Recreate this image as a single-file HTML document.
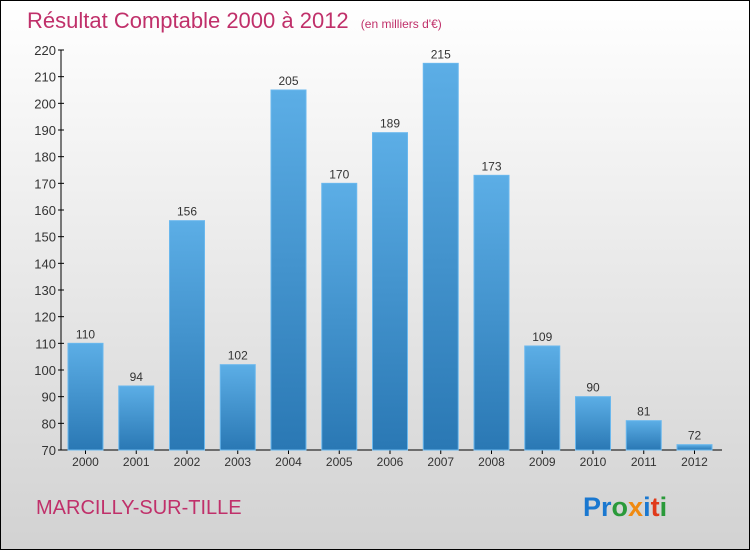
<!DOCTYPE html>
<html><head><meta charset="utf-8"><style>
body{margin:0}
#c{width:750px;height:550px;position:relative;box-sizing:border-box;border:1px solid #000;background:linear-gradient(#ffffff,#d2d2d2);font-family:"Liberation Sans",sans-serif;overflow:hidden}
</style></head><body>
<div id="c">
<svg width="750" height="550" style="position:absolute;left:-1px;top:-1px">
<defs><linearGradient id="g" x1="0" y1="0" x2="0" y2="1"><stop offset="0" stop-color="#5caee6"/><stop offset="1" stop-color="#2a78b4"/></linearGradient></defs>
<text x="27" y="28" font-size="22" fill="#c0306a">Résultat Comptable 2000 à 2012 <tspan font-size="12" dx="6">(en milliers d'€)</tspan></text>
<g id="ax"></g><g id="bars"></g>
<text x="36" y="514" font-size="20" fill="#c0306a">MARCILLY-SUR-TILLE</text>
<text x="583" y="516" font-size="27" font-weight="bold"><tspan fill="#1a78d0">Pr</tspan><tspan fill="#2a9a3a">o</tspan><tspan fill="#f08a10">x</tspan><tspan fill="#1a78d0">i</tspan><tspan fill="#e03a1a">t</tspan><tspan fill="#2a9a3a">i</tspan></text>
</svg>
</div>
<script>
const categories=["2000","2001","2002","2003","2004","2005","2006","2007","2008","2009","2010","2011","2012"];
const values=[110,94,156,102,205,170,189,215,173,109,90,81,72];
const ticks=[70,80,90,100,110,120,130,140,150,160,170,180,190,200,210,220];
const NS="http://www.w3.org/2000/svg";
const y=v=>450-(v-70)*(400/150);
const x=i=>85.5+i*50.75;
function mk(t,a,p){const e=document.createElementNS(NS,t);for(const k in a)e.setAttribute(k,a[k]);p.appendChild(e);return e;}
const ax=document.getElementById('ax'),bars=document.getElementById('bars');
const yl=mk('line',{x1:61,y1:50,x2:61,y2:450,stroke:'#000'},ax);


const xl=mk('line',{x1:61,y1:450,x2:722,y2:450,stroke:'#000'},ax);


ticks.forEach(t=>{
 mk('line',{x1:58,x2:64,y1:y(t),y2:y(t),stroke:'#000'},ax);
 const tx=mk('text',{x:56,y:y(t)+5,'text-anchor':'end','font-size':13,fill:'#333'},ax);tx.textContent=t;
 
 
});
categories.forEach((c,i)=>{
 const r=mk('rect',{x:x(i)-17.5,y:y(values[i]),width:35,height:450-y(values[i]),fill:'url(#g)',stroke:'#6ab8ee','stroke-width':1},bars);
 
 
 const v=mk('text',{x:x(i),y:y(values[i])-5,'text-anchor':'middle','font-size':12,fill:'#333'},bars);v.textContent=values[i];
 
 
 mk('line',{x1:x(i),x2:x(i),y1:450,y2:454,stroke:'#000'},ax);
 const l=mk('text',{x:x(i),y:466,'text-anchor':'middle','font-size':12,fill:'#333'},ax);l.textContent=c;
 
 
});
</script>
</body></html>
